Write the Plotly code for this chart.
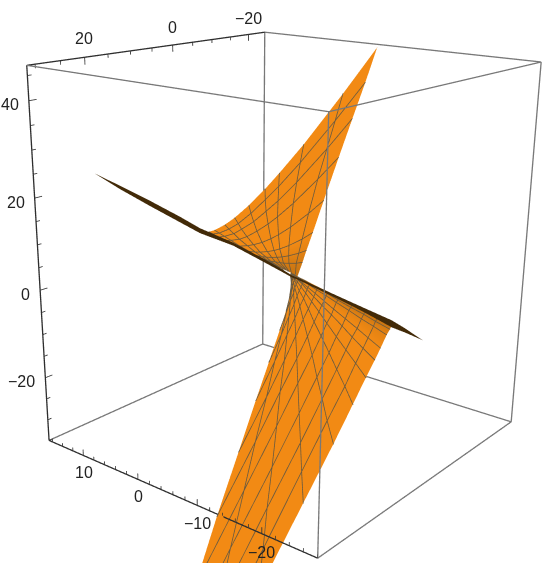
import numpy as np
import plotly.graph_objects as go

# Plot box
x_range = (-28.0, 16.7)
y_range = (-24.7, 31.6)
z_range = (-35.0, 47.0)
x_labels = [10, 0, -10, -20]
y_labels = [20, 0, -20]
z_labels = [40, 20, 0, -20]

# Upper sheet (9 mesh rows x 11 mesh columns)
upper_x = [
 [4.8,4.4,3.9,3.2,2.6,1.9,1.3,0.8,0.0,-1.1,-2.0],
 [4.2,3.8,3.2,2.5,1.9,1.2,0.6,0.0,-0.8,-1.9,-2.8],
 [3.4,3.0,2.5,1.7,1.2,0.4,-0.2,-0.8,-1.6,-2.7,-3.6],
 [2.5,2.1,1.6,0.8,0.2,-0.5,-1.2,-1.7,-2.5,-3.6,-4.5],
 [1.2,0.8,0.3,-0.4,-1.0,-1.7,-2.4,-2.9,-3.7,-4.7,-5.5],
 [-0.1,-0.4,-0.9,-1.6,-2.1,-2.8,-3.4,-3.9,-4.6,-5.6,-6.3],
 [-1.1,-1.4,-1.9,-2.5,-3.0,-3.6,-4.1,-4.6,-5.2,-6.1,-6.7],
 [-2.1,-2.4,-2.8,-3.3,-3.7,-4.2,-4.7,-5.1,-5.7,-6.4,-7.0],
 [-4.7,-4.8,-5.0,-5.3,-5.5,-5.8,-6.0,-6.2,-6.5,-7.0,-7.3],
]
upper_y = [
 [8.8,8.4,7.7,6.1,4.5,1.9,-1.4,-4.4,-9.7,-18.8,-27.2],
 [8.5,8.2,7.5,6.1,4.6,2.4,-0.4,-3.0,-7.5,-15.3,-22.4],
 [8.2,7.9,7.2,6.0,4.8,2.9,0.6,-1.6,-5.3,-11.7,-17.4],
 [7.8,7.5,6.9,5.9,4.9,3.4,1.6,-0.1,-3.0,-7.8,-12.1],
 [7.2,6.9,6.5,5.7,5.0,3.9,2.7,1.5,-0.4,-3.6,-6.4],
 [6.6,6.4,6.0,5.5,5.0,4.2,3.4,2.7,1.4,-0.5,-2.2],
 [6.1,5.9,5.7,5.2,4.8,4.3,3.7,3.2,2.4,1.2,0.1],
 [5.7,5.5,5.3,5.0,4.7,4.3,3.9,3.6,3.1,2.3,1.6],
 [4.5,4.5,4.4,4.3,4.2,4.0,3.9,3.8,3.7,3.5,3.4],
]
upper_z = [
 [9.9,9.9,10.2,11.2,12.5,14.8,17.8,20.8,26.3,36.3,45.8],
 [9.5,9.5,9.7,10.4,11.4,13.3,15.8,18.3,22.8,30.9,38.6],
 [9.1,9.0,9.1,9.6,10.4,11.8,13.7,15.6,19.1,25.4,31.4],
 [8.5,8.4,8.4,8.6,9.1,10.1,11.4,12.7,15.2,19.7,23.9],
 [7.7,7.5,7.4,7.5,7.7,8.1,8.8,9.5,10.9,13.4,15.8],
 [6.8,6.7,6.5,6.4,6.4,6.5,6.7,7.0,7.6,8.8,10.0],
 [6.2,6.0,5.8,5.6,5.5,5.5,5.5,5.6,5.8,6.3,6.8],
 [5.6,5.4,5.2,5.0,4.8,4.7,4.6,4.5,4.5,4.5,4.7],
 [3.9,3.9,3.7,3.6,3.4,3.3,3.1,3.0,2.8,2.5,2.2],
]
upper_shade = [1, 1, 1, 1, 1, 1, 0.9, 0.8, 0.7]

# Lower sheet (12 mesh rows x 14 mesh columns)
lower_x = [
 [-19.5,-17.7,-16.0,-14.4,-12.7,-11.3,-10.0,-8.9,-8.2,-7.5,-7.1,-6.8,-6.6,-6.5],
 [-19.5,-17.6,-16.1,-14.4,-12.7,-11.3,-10.0,-9.0,-8.2,-7.5,-7.1,-6.8,-6.6,-6.5],
 [-19.5,-17.7,-16.1,-14.4,-12.7,-11.3,-10.0,-9.0,-8.2,-7.5,-7.1,-6.8,-6.6,-6.5],
 [-19.6,-17.8,-16.2,-14.5,-12.8,-11.4,-10.1,-9.0,-8.2,-7.5,-7.1,-6.8,-6.6,-6.5],
 [-19.7,-17.9,-16.2,-14.6,-12.9,-11.4,-10.1,-9.0,-8.2,-7.6,-7.2,-6.8,-6.6,-6.5],
 [-19.8,-18.0,-16.3,-14.6,-12.9,-11.5,-10.2,-9.1,-8.3,-7.6,-7.2,-6.8,-6.6,-6.5],
 [-20.0,-18.2,-16.5,-14.8,-13.1,-11.6,-10.3,-9.2,-8.3,-7.6,-7.3,-6.9,-6.6,-6.5],
 [-20.3,-18.4,-16.7,-15.0,-13.3,-11.8,-10.4,-9.3,-8.4,-7.7,-7.3,-6.9,-6.7,-6.5],
 [-20.7,-18.8,-17.1,-15.3,-13.5,-12.0,-10.6,-9.5,-8.6,-7.9,-7.4,-7.0,-6.7,-6.5],
 [-21.4,-19.5,-17.6,-15.8,-13.9,-12.3,-10.9,-9.7,-8.8,-8.0,-7.6,-7.1,-6.8,-6.5],
 [-22.0,-20.5,-18.6,-16.5,-14.5,-12.8,-11.3,-10.0,-9.1,-8.3,-7.8,-7.3,-7.0,-6.7],
 [-22.0,-20.5,-19.1,-17.7,-15.5,-13.5,-11.8,-10.5,-9.5,-8.7,-8.2,-7.7,-7.3,-6.9],
]
lower_y = [
 [-1.6,-0.9,-0.2,0.5,1.1,1.7,2.3,2.7,3.0,3.3,3.5,3.6,3.7,3.7],
 [-1.0,-0.3,0.3,0.9,1.5,2.0,2.5,2.8,3.1,3.4,3.5,3.6,3.7,3.8],
 [-0.1,0.4,0.9,1.4,1.9,2.3,2.7,3.0,3.2,3.4,3.6,3.7,3.7,3.8],
 [1.7,2.0,2.2,2.5,2.8,3.0,3.2,3.4,3.5,3.6,3.7,3.7,3.8,3.8],
 [3.4,3.5,3.5,3.5,3.5,3.6,3.6,3.6,3.6,3.7,3.7,3.7,3.8,3.8],
 [5.9,5.6,5.3,5.0,4.7,4.5,4.3,4.1,4.0,3.9,3.9,3.8,3.8,3.8],
 [9.6,8.7,8.0,7.2,6.5,5.9,5.3,4.8,4.5,4.2,4.1,4.0,3.9,3.8],
 [15.0,13.5,12.0,10.6,9.1,7.9,6.8,5.9,5.2,4.7,4.4,4.1,4.0,3.9],
 [23.0,20.4,18.0,15.5,13.0,10.9,9.0,7.5,6.3,5.3,4.8,4.4,4.1,3.9],
 [34.5,30.5,26.7,22.8,18.8,15.5,12.3,9.8,7.9,6.3,5.4,4.7,4.3,4.0],
 [41.8,43.3,39.3,33.4,27.4,22.2,17.3,13.3,10.3,7.8,6.3,5.1,4.5,4.1],
 [41.8,43.3,44.8,46.2,39.8,32.1,24.7,18.7,14.0,10.1,7.7,5.8,4.8,4.2],
]
lower_z = [
 [-5.7,-4.5,-3.5,-2.4,-1.3,-0.3,0.5,1.2,1.7,2.1,2.4,2.6,2.7,2.8],
 [-6.5,-5.2,-4.0,-2.9,-1.7,-0.6,0.3,1.0,1.6,2.1,2.3,2.6,2.7,2.8],
 [-7.4,-6.0,-4.8,-3.4,-2.1,-1.0,0.0,0.8,1.4,2.0,2.3,2.5,2.7,2.8],
 [-9.6,-7.9,-6.4,-4.8,-3.2,-1.9,-0.6,0.4,1.1,1.8,2.1,2.5,2.6,2.8],
 [-11.5,-9.6,-7.8,-6.0,-4.2,-2.6,-1.2,0.0,0.9,1.6,2.0,2.4,2.6,2.8],
 [-14.3,-12.0,-9.9,-7.8,-5.6,-3.7,-2.0,-0.6,0.4,1.3,1.8,2.3,2.5,2.7],
 [-18.5,-15.7,-13.0,-10.4,-7.7,-5.4,-3.2,-1.5,-0.2,0.9,1.6,2.1,2.5,2.7],
 [-24.5,-21.0,-17.7,-14.3,-10.8,-7.8,-5.0,-2.8,-1.1,0.3,1.2,1.9,2.3,2.6],
 [-33.0,-28.5,-24.3,-19.9,-15.3,-11.4,-7.7,-4.8,-2.5,-0.6,0.6,1.5,2.1,2.5],
 [-44.8,-39.2,-33.7,-27.9,-21.9,-16.6,-11.7,-7.6,-4.5,-1.9,-0.3,1.0,1.8,2.4],
 [-52.0,-52.0,-46.6,-39.2,-31.3,-24.2,-17.5,-11.9,-7.6,-3.9,-1.7,0.2,1.4,2.1],
 [-52.0,-52.0,-52.0,-52.1,-44.3,-35.0,-25.9,-18.1,-12.1,-6.9,-3.7,-0.9,0.7,1.8],
]
lower_shade = [0.65, 0.78, 0.9, 1, 1, 1, 1, 1, 1, 1, 1, 1]

# Dark fold on the left and on the right
wing_left_x = [[19.3,15.8,11.7,7.7,4.9,0.6,-3.4,-6.0,-7.3],[19.3,15.6,11.4,7.3,4.6,0.4,-3.5,-6.2,-7.4]]
wing_left_y = [[15.9,14.4,12.6,10.9,9.9,7.8,6.2,5.2,4.8],[15.9,14.7,13.1,11.4,10.3,8.1,6.5,5.4,5.0]]
wing_left_z = [[20.7,18.5,15.8,13.0,11.0,8.5,5.8,3.9,2.9],[20.7,17.9,14.9,12.0,10.1,8.0,5.3,3.4,2.6]]
wing_right_x = [[-7.3,-8.0,-13.1,-16.4,-19.7,-21.4,-23.8],[-7.4,-8.2,-13.2,-16.6,-20.1,-21.7,-23.8]]
wing_right_y = [[4.8,4.4,2.1,0.5,-1.0,-1.6,-2.2],[5.0,4.6,2.3,0.9,-0.4,-1.2,-2.2]]
wing_right_z = [[2.9,2.5,-0.5,-2.5,-4.4,-5.7,-7.6],[2.6,2.2,-1.0,-3.2,-5.6,-6.4,-7.6]]

# Style and view
EYE = (-1.7733, 2.2679, 0.9187)
CENTER = (0.0115, 0.0362, -0.0615)
UP = (0.2105, -0.2471, 0.9459)
BOX_SIDES = (0.90029, 0.90289, 1.0)
FIG_SIZE = 961.73
EXTEND = 3
MESH_LIFT = (-0.176, 0.276, 0.160)
SCALE = [[0, '#3c2708'], [0.5, '#a8640f'], [1, '#f28a14']]

fig = go.Figure()
LIGHT = dict(ambient=1, diffuse=0, specular=0, fresnel=0, roughness=1)


def add_surface(x, y, z, shade):
    fig.add_trace(go.Surface(x=x, y=y, z=z, surfacecolor=shade, cmin=0, cmax=1,
                             colorscale=SCALE, showscale=False, hoverinfo='skip', lighting=LIGHT))


add_surface(upper_x, upper_y, upper_z, [[s] * 11 for s in upper_shade])
add_surface(lower_x, lower_y, lower_z, [[s] * 14 for s in lower_shade])
add_surface(wing_left_x, wing_left_y, wing_left_z, [[0.03] * 9] * 2)
add_surface(wing_right_x, wing_right_y, wing_right_z, [[0.03] * 7] * 2)

mesh = [[], [], []]


def add_mesh_line(xs, ys, zs):
    for k, values in enumerate((xs, ys, zs)):
        mesh[k].extend(float(v) + MESH_LIFT[k] for v in values)
        mesh[k].append(None)


ux, uy, uz = np.array(upper_x), np.array(upper_y), np.array(upper_z)
lx, ly, lz = np.array(lower_x), np.array(lower_y), np.array(lower_z)
for j in range(1, 8):
    add_mesh_line(ux[j], uy[j], uz[j])
for i in range(1, 10):
    add_mesh_line(ux[:, i], uy[:, i], uz[:, i])
for j in range(1, 11):
    add_mesh_line(lx[j], ly[j], lz[j])
for i in range(1, 14):
    add_mesh_line(lx[:, i], ly[:, i], lz[:, i])
fig.add_trace(go.Scatter3d(x=mesh[0], y=mesh[1], z=mesh[2], mode='lines',
                           line=dict(color='#6a5a40', width=1.6), hoverinfo='skip'))

x0, x1 = x_range
y0, y1 = y_range
z0, z1 = z_range


def add_segments(segments, color, width):
    xs, ys, zs = [], [], []
    for a, b in segments:
        xs += [a[0], b[0], None]
        ys += [a[1], b[1], None]
        zs += [a[2], b[2], None]
    fig.add_trace(go.Scatter3d(x=xs, y=ys, z=zs, mode='lines', hoverinfo='skip',
                               line=dict(color=color, width=width)))


add_segments([((x1, y1, z1), (x0, y1, z1)), ((x0, y1, z1), (x0, y0, z1)), ((x0, y0, z1), (x1, y0, z1)),
              ((x1, y0, z1), (x1, y0, z0)), ((x0, y0, z1), (x0, y0, z0)), ((x0, y1, z1), (x0, y1, z0)),
              ((x1, y1, z0), (x1, y0, z0)), ((x1, y0, z0), (x0, y0, z0)), ((x0, y0, z0), (x0, y1, z0))],
             '#787878', 2.6)
add_segments([((x1, y1, z1), (x1, y1, z0)), ((x1, y1, z1), (x1, y0, z1)), ((x1, y1, z0), (x0, y1, z0))],
             '#2e2e2e', 2.6)

ticks = []
for v in range(-28, 17, 2):
    ticks.append(((v, y1, z0), (v, y1, z0 + (1.4 if v % 10 == 0 else 0.8))))
for v in range(-20, 31, 5):
    ticks.append(((x1, v, z1), (x1, v, z1 - (1.5 if v % 20 == 0 else 0.8))))
for v in range(-35, 46, 5):
    ticks.append(((x1, y1, v), (x1, y1 - (1.5 if v % 20 == 0 else 0.8), v)))
add_segments(ticks, '#333333', 1.6)

font = dict(family='Liberation Sans', size=16, color='#222222')


def label(v):
    return str(v).replace('-', '\u2212')


annotations = []
for v in x_labels:
    annotations.append(dict(x=v, y=y1, z=z0 - 4, text=label(v), showarrow=False, font=font))
for v in y_labels:
    annotations.append(dict(x=x1, y=v, z=z1 + 3.8, text=label(v), showarrow=False, font=font))
for v in z_labels:
    annotations.append(dict(x=x1, y=y1, z=v, text=label(v), showarrow=False, font=font,
                            xanchor='right', xshift=-8, yshift=-4))


def wide_range(r):
    mid, width = sum(r) / 2, r[1] - r[0]
    return [mid - EXTEND * width / 2, mid + EXTEND * width / 2]


fig.update_layout(
    width=FIG_SIZE, height=FIG_SIZE, margin=dict(l=0, r=0, t=0, b=0), paper_bgcolor='white', showlegend=False,
    scene=dict(
        domain=dict(x=[0, 1], y=[0, 1]), bgcolor='white', aspectmode='manual',
        aspectratio=dict(x=EXTEND * BOX_SIDES[0], y=EXTEND * BOX_SIDES[1], z=EXTEND * BOX_SIDES[2]),
        xaxis=dict(visible=False, range=wide_range(x_range)),
        yaxis=dict(visible=False, range=wide_range(y_range)),
        zaxis=dict(visible=False, range=wide_range(z_range)),
        camera=dict(eye=dict(x=EYE[0], y=EYE[1], z=EYE[2]),
                    center=dict(x=CENTER[0], y=CENTER[1], z=CENTER[2]),
                    up=dict(x=UP[0], y=UP[1], z=UP[2]),
                    projection=dict(type='perspective')),
        annotations=annotations))

page = """document.documentElement.style.overflow='hidden';
document.body.style.cssText='margin:0;height:563px;overflow:hidden;position:relative;background:white';
var d=document.getElementById('{plot_id}');d.style.position='absolute';d.style.left='%fpx';d.style.top='%fpx';""" % (
    275.0 - FIG_SIZE / 2, 281.5 - FIG_SIZE / 2)
fig.write_html('out.html', post_script=page)
